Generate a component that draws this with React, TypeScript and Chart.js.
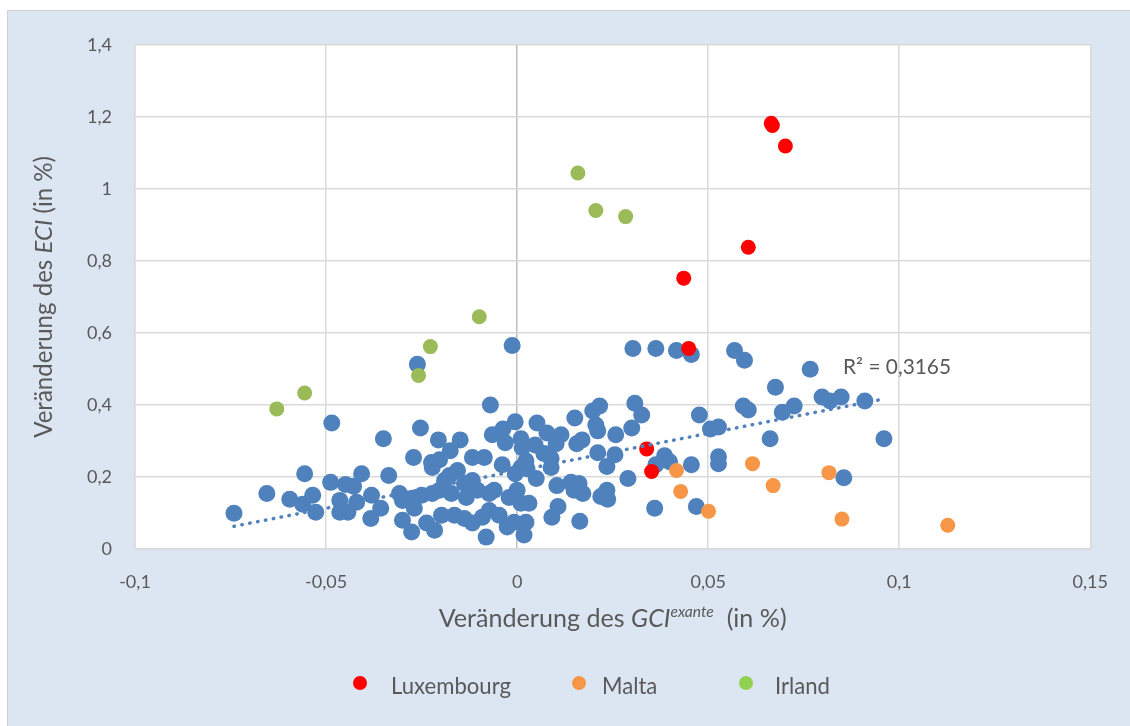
import React, { useEffect, useRef } from 'react';
import { Chart, registerables } from 'chart.js';

Chart.register(...registerables);

// ---------- data ----------
const xTickLabels = ['-0,1', '-0,05', '0', '0,05', '0,1', '0,15'];
const yTickLabels = ['0', '0,2', '0,4', '0,6', '0,8', '1', '1,2', '1,4'];

const luxembourg: number[][] = [
  [0.0665, 1.182], [0.0668, 1.176], [0.0702, 1.119], [0.0605, 0.838],
  [0.0436, 0.752], [0.0449, 0.557], [0.0339, 0.278], [0.0352, 0.215],
];

const malta: number[][] = [
  [0.0417, 0.218], [0.0428, 0.160], [0.0501, 0.105], [0.0616, 0.237],
  [0.0670, 0.176], [0.0816, 0.212], [0.0850, 0.083], [0.1127, 0.066],
];

const irland: number[][] = [
  [0.0159, 1.044], [0.0206, 0.940], [0.0284, 0.923], [-0.0099, 0.645],
  [-0.0227, 0.562], [-0.0258, 0.482], [-0.0556, 0.433], [-0.0629, 0.389],
];

const otherRegions: number[][] = [
  [-0.0741, 0.099], [-0.0655, 0.154], [-0.0595, 0.138], [-0.0561, 0.124], [-0.0535, 0.149],
  [-0.0527, 0.102], [-0.0556, 0.209], [-0.0485, 0.350], [-0.0488, 0.185], [-0.0449, 0.179],
  [-0.0428, 0.174], [-0.0407, 0.209], [-0.0464, 0.135], [-0.0464, 0.102], [-0.0443, 0.102],
  [-0.0420, 0.130], [-0.0381, 0.149], [-0.0357, 0.113], [-0.0383, 0.085], [-0.0336, 0.204],
  [-0.0350, 0.306], [-0.0261, 0.513], [-0.0253, 0.336],
  [-0.0308, 0.154], [-0.0300, 0.135], [-0.0274, 0.141], [-0.0250, 0.149], [-0.0222, 0.154],
  [-0.0190, 0.190], [-0.0177, 0.204], [-0.0156, 0.218], [-0.0138, 0.182], [-0.0117, 0.190],
  [-0.0104, 0.163], [-0.0203, 0.163], [-0.0172, 0.154], [-0.0133, 0.143], [-0.0073, 0.154],
  [-0.0060, 0.163], [-0.0021, 0.143], [0.0000, 0.163], [0.0010, 0.226], [0.0023, 0.245],
  [0.0050, 0.196], [0.0031, 0.127],
  [-0.0269, 0.113], [-0.0300, 0.080], [-0.0237, 0.072], [-0.0276, 0.047], [-0.0216, 0.052],
  [-0.0198, 0.094], [-0.0164, 0.094], [-0.0138, 0.085], [-0.0117, 0.072], [-0.0091, 0.088],
  [-0.0073, 0.107], [-0.0047, 0.094], [-0.0026, 0.061], [0.0023, 0.074], [0.0018, 0.039],
  [-0.0081, 0.033], [0.0091, 0.088],
  [-0.0271, 0.254], [-0.0224, 0.240], [-0.0203, 0.248], [-0.0222, 0.226], [-0.0117, 0.254],
  [-0.0086, 0.254], [-0.0039, 0.234], [-0.0206, 0.303], [-0.0149, 0.303], [-0.0175, 0.273],
  [-0.0070, 0.400], [-0.0065, 0.317], [-0.0037, 0.333], [-0.0005, 0.353], [-0.0031, 0.295],
  [0.0010, 0.306], [0.0013, 0.281], [0.0052, 0.350], [0.0078, 0.322], [-0.0013, 0.565],
  [-0.0005, 0.209], [0.0026, 0.223], [0.0010, 0.127], [-0.0008, 0.074],
  [0.0115, 0.317], [0.0102, 0.292], [0.0047, 0.289], [0.0070, 0.265], [0.0089, 0.226],
  [0.0089, 0.251],
  [0.0104, 0.176], [0.0141, 0.185], [0.0162, 0.182], [0.0149, 0.163], [0.0172, 0.154],
  [0.0219, 0.146], [0.0235, 0.163], [0.0237, 0.138], [0.0107, 0.118], [0.0164, 0.077],
  [0.0151, 0.364], [0.0198, 0.383], [0.0216, 0.397], [0.0206, 0.344], [0.0211, 0.328],
  [0.0300, 0.336], [0.0258, 0.317], [0.0308, 0.405], [0.0326, 0.372],
  [0.0170, 0.303], [0.0156, 0.292], [0.0211, 0.267], [0.0256, 0.262], [0.0235, 0.229],
  [0.0290, 0.196],
  [0.0386, 0.259], [0.0399, 0.242], [0.0363, 0.234], [0.0456, 0.234], [0.0360, 0.113],
  [0.0469, 0.118], [0.0477, 0.372],
  [0.0303, 0.557], [0.0363, 0.557], [0.0417, 0.551], [0.0456, 0.540], [0.0569, 0.551],
  [0.0595, 0.524], [0.0676, 0.449], [0.0592, 0.397], [0.0605, 0.386], [0.0694, 0.380],
  [0.0725, 0.397], [0.0506, 0.333], [0.0527, 0.339], [0.0662, 0.306], [0.0527, 0.256],
  [0.0527, 0.237],
  [0.0767, 0.499], [0.0798, 0.422], [0.0819, 0.411], [0.0848, 0.422], [0.0910, 0.411],
  [0.0960, 0.306], [0.0855, 0.198],
];

// linear trendline of the other regions (end points)
const trendX = [-0.0741, 0.0957];
const trendY = [0.063, 0.416];
const rSquaredText = 'R² = 0,3165';
const rSquaredPos = [0.0853, 0.485];

const legendLabels = ['Luxembourg', 'Malta', 'Irland'];

// ---------- styles ----------
const TEXT = '#595959';
const FONT = 'Lato';
const BLUE = '#4f81bd';
const RED = '#ff0000';
const ORANGE = '#f79646';
const GREEN = '#9bbb59';
const legendColors = [RED, ORANGE, '#92d050'];

type Seg = { t: string; i?: boolean; sup?: boolean };

function segFont(s: Seg, size: number) {
  const sz = s.sup ? size * 0.62 : size;
  return `${s.i ? 'italic ' : ''}${sz}px ${FONT}`;
}
function richWidth(ctx: CanvasRenderingContext2D, segs: Seg[], size: number) {
  let w = 0;
  for (const s of segs) {
    ctx.font = segFont(s, size);
    w += ctx.measureText(s.t).width;
  }
  return w;
}
function fitSize(ctx: CanvasRenderingContext2D, segs: Seg[], target: number) {
  return (20 * target) / richWidth(ctx, segs, 20);
}
function drawRich(ctx: CanvasRenderingContext2D, segs: Seg[], size: number, x: number, y: number, align: 'left' | 'center') {
  const w = richWidth(ctx, segs, size);
  let cx = align === 'center' ? x - w / 2 : x;
  ctx.textAlign = 'left';
  ctx.textBaseline = 'alphabetic';
  for (const s of segs) {
    ctx.font = segFont(s, size);
    ctx.fillText(s.t, cx, s.sup ? y - size * 0.38 : y);
    cx += ctx.measureText(s.t).width;
  }
}

const xTitle: Seg[] = [
  { t: 'Veränderung des ' },
  { t: 'GCI', i: true },
  { t: 'exante', i: true, sup: true },
  { t: '  (in %)' },
];
const yTitle: Seg[] = [
  { t: 'Veränderung des ' },
  { t: 'ECI', i: true },
  { t: ' (in %)' },
];

const decorPlugin = {
  id: 'decor',
  beforeDraw(chart: any) {
    const { ctx, chartArea: a } = chart;
    ctx.save();
    ctx.fillStyle = '#ffffff';
    ctx.fillRect(a.left, a.top, a.right - a.left, a.bottom - a.top);
    ctx.restore();
  },
  afterDraw(chart: any) {
    const { ctx, chartArea: a, scales } = chart;
    ctx.save();
    ctx.fillStyle = TEXT;

    // x-axis title
    const xs = fitSize(ctx, xTitle, 348);
    drawRich(ctx, xTitle, xs, (a.left + a.right) / 2, 616, 'center');

    // y-axis title (rotated)
    const ys = fitSize(ctx, yTitle, 282);
    ctx.save();
    ctx.translate(44, (a.top + a.bottom) / 2);
    ctx.rotate(-Math.PI / 2);
    drawRich(ctx, yTitle, ys, 0, 0, 'center');
    ctx.restore();

    // R² label
    const rs = fitSize(ctx, [{ t: rSquaredText }], 108);
    drawRich(
      ctx,
      [{ t: rSquaredText }],
      rs,
      scales.x.getPixelForValue(rSquaredPos[0]),
      scales.y.getPixelForValue(rSquaredPos[1]),
      'left'
    );

    // legend
    const ls = fitSize(ctx, [{ t: legendLabels[0] }], 120);
    const dotX = [352, 571, 738];
    const textX = [383, 594, 767];
    legendLabels.forEach((lab, i) => {
      ctx.fillStyle = legendColors[i];
      ctx.beginPath();
      ctx.arc(dotX[i], 672, 7, 0, Math.PI * 2);
      ctx.fill();
      ctx.fillStyle = TEXT;
      drawRich(ctx, [{ t: lab }], ls, textX[i], 683, 'left');
    });
    ctx.restore();
  },
};

const toPts = (arr: number[][]) => arr.map(([x, y]) => ({ x, y }));

export default function App() {
  const ref = useRef<HTMLCanvasElement>(null);

  useEffect(() => {
    const canvas = ref.current;
    if (!canvas) return;
    const chart = new Chart(canvas, {
      type: 'scatter',
      data: {
        datasets: [
          {
            label: 'Trend',
            data: trendX.map((x, i) => ({ x, y: trendY[i] })),
            showLine: true,
            pointRadius: 0,
            borderColor: BLUE,
            borderWidth: 3.5,
            borderDash: [0.5, 7.5],
            borderCapStyle: 'round',
            order: 0,
          } as any,
          {
            label: 'Luxembourg',
            data: toPts(luxembourg),
            pointRadius: 7.5,
            backgroundColor: RED,
            borderColor: RED,
            borderWidth: 0,
            order: 1,
          },
          {
            label: 'Malta',
            data: toPts(malta),
            pointRadius: 7.5,
            backgroundColor: ORANGE,
            borderColor: ORANGE,
            borderWidth: 0,
            order: 2,
          },
          {
            label: 'Irland',
            data: toPts(irland),
            pointRadius: 7.5,
            backgroundColor: GREEN,
            borderColor: GREEN,
            borderWidth: 0,
            order: 3,
          },
          {
            label: 'Andere',
            data: toPts(otherRegions),
            pointRadius: 8.5,
            backgroundColor: BLUE,
            borderColor: BLUE,
            borderWidth: 0,
            order: 4,
          },
        ],
      },
      options: {
        responsive: false,
        animation: false,
        events: [],
        layout: { padding: { left: 0, top: 30, right: 37, bottom: 127 } },
        plugins: {
          legend: { display: false },
          tooltip: { enabled: false },
        },
        scales: {
          x: {
            type: 'linear',
            min: -0.1,
            max: 0.15,
            afterFit: (s: any) => {
              s.height = 50;
            },
            ticks: {
              stepSize: 0.05,
              autoSkip: false,
              maxRotation: 0,
              padding: 22,
              color: TEXT,
              font: { family: FONT, size: 18 },
              callback: (_v: any, i: number) => xTickLabels[i],
            },
            grid: {
              drawTicks: false,
              lineWidth: 1.5,
              color: (c: any) => (c.tick && Math.abs(c.tick.value) < 1e-9 ? '#bfbfbf' : '#d9d9d9'),
            },
            border: { display: true, color: '#d9d9d9', width: 1.5 },
          },
          y: {
            type: 'linear',
            min: 0,
            max: 1.4,
            afterFit: (s: any) => {
              s.width = 127;
            },
            ticks: {
              stepSize: 0.2,
              autoSkip: false,
              padding: 23,
              color: TEXT,
              font: { family: FONT, size: 18 },
              callback: (_v: any, i: number) => yTickLabels[i],
            },
            grid: { drawTicks: false, lineWidth: 1.5, color: '#d9d9d9' },
            border: { display: true, color: '#d9d9d9', width: 1.5 },
          },
        },
      },
      plugins: [decorPlugin],
    });
    return () => chart.destroy();
  }, []);

  return (
    <div
      style={{
        position: 'absolute',
        left: 7,
        top: 10,
        width: 1123,
        height: 716,
        boxSizing: 'border-box',
        background: '#dce6f2',
        borderTop: '1px solid #d0d0d0',
        borderLeft: '1px solid #d0d0d0',
      }}
    >
      <canvas ref={ref} width={1122} height={715} style={{ display: 'block', width: 1122, height: 715 }} />
    </div>
  );
}
